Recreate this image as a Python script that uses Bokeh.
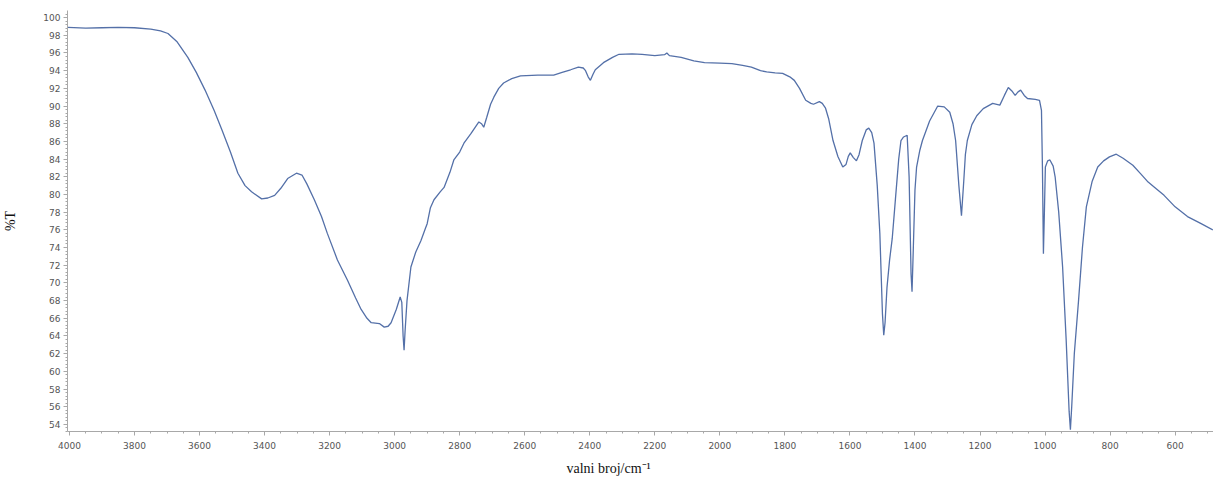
from bokeh.plotting import figure
from bokeh.models import Range1d, FixedTicker, ColumnDataSource, Title
from bokeh.embed import file_html
from bokeh.resources import INLINE

# IR spectrum: wavenumber (cm^-1) and transmittance (%T)
wavenumber = [
    4005, 3950, 3900, 3850, 3800, 3750, 3720, 3697, 3670, 3636, 3610, 3583, 3555, 3531,
    3505, 3482, 3460, 3440, 3409, 3390, 3369, 3350, 3329, 3302, 3285, 3270, 3247, 3225,
    3207, 3176, 3145, 3120, 3103, 3085, 3072, 3047, 3032, 3020, 3011, 2995, 2983, 2978,
    2974, 2971, 2968, 2962, 2950, 2935, 2919, 2905, 2900, 2890, 2879, 2860, 2848, 2830,
    2818, 2800, 2787, 2765, 2741, 2733, 2726, 2717, 2705, 2695, 2680, 2665, 2640, 2613,
    2560, 2511, 2485, 2459, 2435, 2420, 2413, 2405, 2398, 2390, 2383, 2358, 2330, 2310,
    2270, 2239, 2200, 2170, 2163, 2155, 2119, 2080, 2047, 2000, 1963, 1930, 1903, 1875,
    1856, 1830, 1807, 1785, 1771, 1755, 1736, 1720, 1712, 1694, 1685, 1675, 1665, 1652,
    1637, 1622, 1612, 1605, 1599, 1590, 1580, 1572, 1562, 1550, 1542, 1533, 1526, 1516,
    1508, 1500, 1496, 1492, 1486, 1478, 1470, 1460, 1450, 1443, 1435, 1424, 1418, 1412,
    1409, 1405, 1400, 1395, 1385, 1377, 1355, 1330, 1310, 1293, 1283, 1275, 1265, 1257,
    1250, 1245, 1239, 1225, 1210, 1190, 1161, 1139, 1125, 1113, 1102, 1092, 1083, 1075,
    1064, 1054, 1030, 1017, 1011, 1008, 1005, 1002, 999, 992, 985, 975, 969, 958,
    946, 935, 926, 922, 918, 910, 897, 885, 873, 855, 838, 820, 802, 781,
    760, 730, 705, 683, 660, 634, 600, 562, 520, 484,
]
transmittance = [
    98.9, 98.8, 98.85, 98.9, 98.85, 98.7, 98.5, 98.2, 97.3, 95.5, 93.8, 91.8, 89.5, 87.3,
    84.8, 82.4, 81.0, 80.3, 79.5, 79.6, 79.9, 80.7, 81.8, 82.4, 82.2, 81.2, 79.4, 77.5,
    75.6, 72.6, 70.3, 68.3, 67.0, 66.0, 65.5, 65.4, 65.0, 65.1, 65.5, 67.0, 68.4, 67.8,
    64.0, 62.4, 64.5, 68.0, 71.8, 73.5, 74.8, 76.2, 76.7, 78.5, 79.4, 80.3, 80.8, 82.5,
    83.9, 84.8, 85.8, 86.9, 88.2, 88.0, 87.6, 88.7, 90.2, 91.0, 92.0, 92.6, 93.1, 93.4,
    93.5, 93.5, 93.8, 94.1, 94.4, 94.3, 94.0, 93.3, 92.9, 93.6, 94.1, 94.9, 95.5, 95.85,
    95.9, 95.85, 95.7, 95.8, 96.0, 95.7, 95.5, 95.1, 94.9, 94.85, 94.8, 94.6, 94.4, 94.0,
    93.85, 93.75, 93.7, 93.3, 92.9, 92.0, 90.65, 90.3, 90.2, 90.5, 90.3, 89.75, 88.5, 86.1,
    84.3, 83.1, 83.4, 84.3, 84.7, 84.2, 83.8, 84.5, 86.1, 87.3, 87.5, 87.0, 85.8, 81.0,
    75.6, 66.5, 64.1, 65.5, 69.5, 72.6, 75.0, 79.5, 84.0, 86.1, 86.5, 86.7, 82.0, 71.0,
    69.0, 74.0, 80.5, 83.1, 85.0, 86.1, 88.3, 90.0, 89.9, 89.3, 88.0, 86.1, 81.0, 77.6,
    81.5, 84.5, 86.1, 87.9, 88.9, 89.7, 90.3, 90.1, 91.2, 92.1, 91.7, 91.2, 91.6, 91.8,
    91.2, 90.85, 90.75, 90.65, 89.5, 83.0, 73.3, 78.0, 83.1, 83.8, 83.9, 83.2, 82.0, 78.0,
    71.8, 63.5, 55.5, 53.4, 56.0, 62.0, 68.0, 74.0, 78.6, 81.5, 83.1, 83.8, 84.25, 84.55,
    84.1, 83.3, 82.3, 81.4, 80.7, 79.9, 78.6, 77.5, 76.7, 76.0,
]

# Axis ticks
x_major_ticks = list(range(600, 4001, 200))
x_minor_ticks = list(range(500, 4001, 50))
y_major_ticks = list(range(54, 101, 2))
y_minor_ticks = [54 + 0.4 * i for i in range(-3, 120)]

source = ColumnDataSource(data=dict(wn=wavenumber, t=transmittance))

p = figure(
    width=1213, height=486,
    x_range=Range1d(4006, 482), y_range=Range1d(53.2, 100.8),
    output_backend="svg", toolbar_location=None,
    min_border_left=62, min_border_right=0, min_border_top=10, min_border_bottom=55,
    background_fill_color="white", border_fill_color="white",
)
p.outline_line_color = None
p.xgrid.visible = False
p.ygrid.visible = False

p.line("wn", "t", source=source, line_color="#5470a8", line_width=1.3)

axis_color = "#a8a8a8"
label_color = "#555555"

for ax in (p.xaxis[0], p.yaxis[0]):
    ax.axis_line_color = axis_color
    ax.major_tick_line_color = axis_color
    ax.minor_tick_line_color = axis_color
    ax.major_tick_in = 0
    ax.minor_tick_in = 0
    ax.major_label_text_font = "DejaVu Sans"
    ax.major_label_text_font_size = "9px"
    ax.major_label_text_color = label_color

p.xaxis.ticker = FixedTicker(ticks=x_major_ticks, minor_ticks=x_minor_ticks)
p.xaxis.major_tick_out = 4
p.xaxis.minor_tick_out = 2
p.xaxis.major_label_standoff = 6

p.yaxis.ticker = FixedTicker(ticks=y_major_ticks, minor_ticks=y_minor_ticks)
p.yaxis.major_tick_out = 4
p.yaxis.minor_tick_out = 2
p.yaxis.major_label_standoff = 3
p.yaxis.axis_label = "%T"
p.yaxis.axis_label_text_font = "Liberation Serif"
p.yaxis.axis_label_text_font_style = "normal"
p.yaxis.axis_label_text_color = "#111111"
p.yaxis.axis_label_text_font_size = "14px"
p.yaxis.axis_label_standoff = 22

# x-axis title, set below the tick labels and centred under the page width
p.add_layout(Title(
    text="valni broj/cm\u207b\u00b9", align="left", offset=499, standoff=15,
    text_font="Liberation Serif", text_font_size="14px", text_font_style="normal",
    text_color="#111111",
), "below")

open("out.html", "w").write(file_html(p, INLINE))
